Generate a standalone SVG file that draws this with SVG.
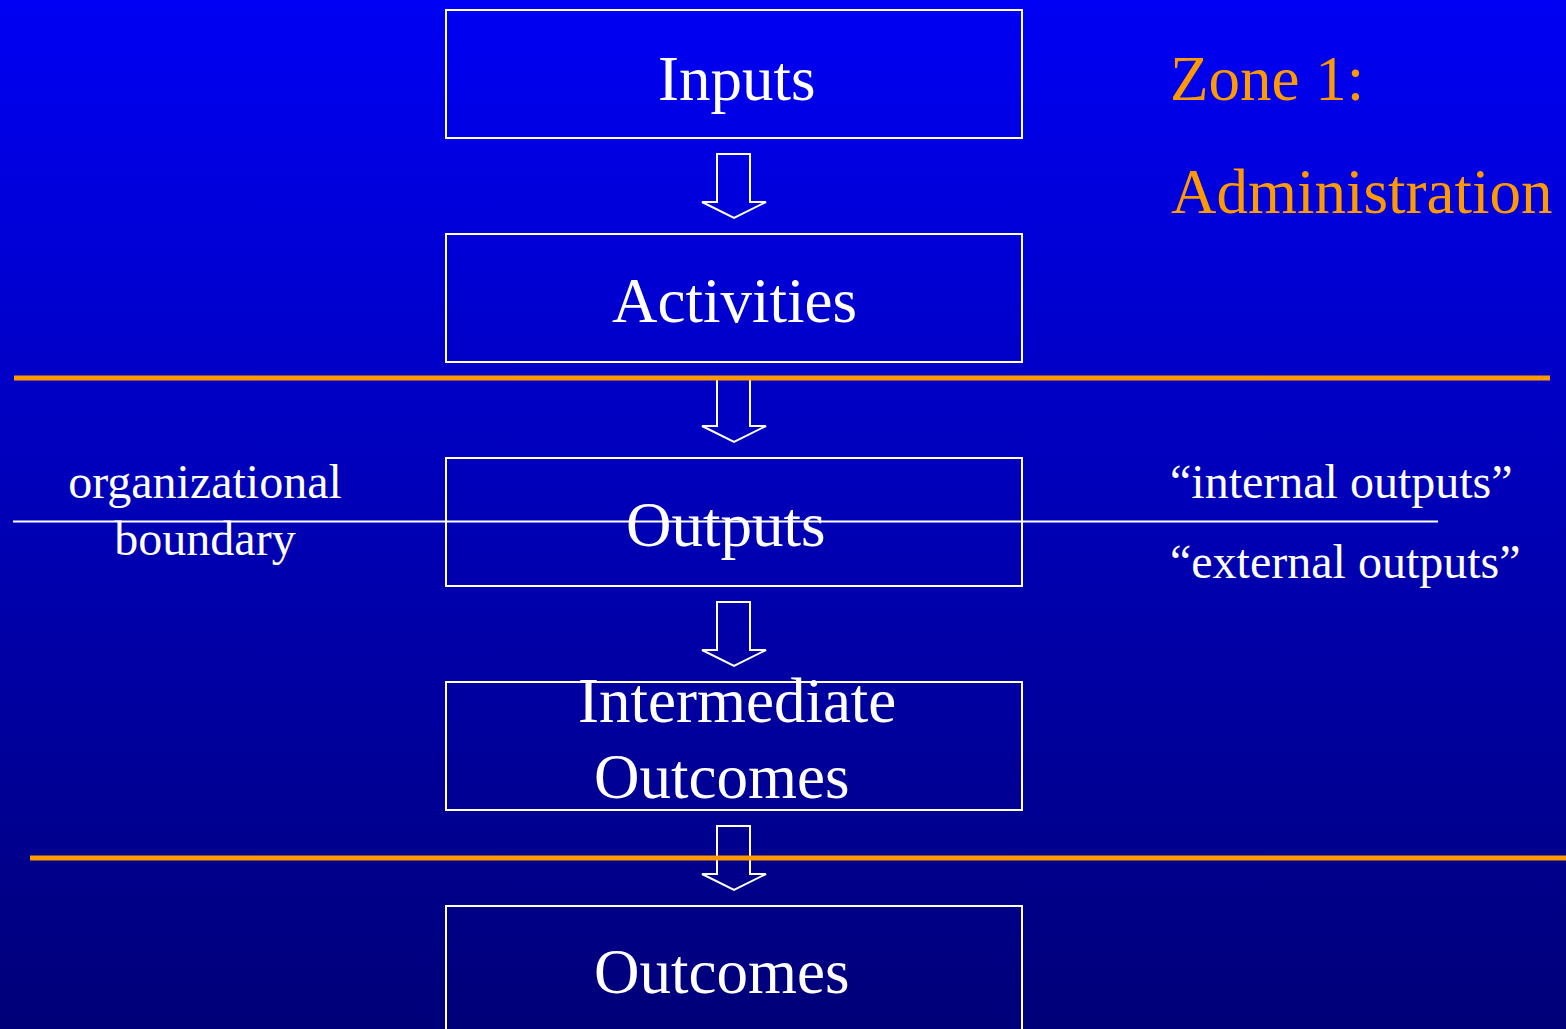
<svg xmlns="http://www.w3.org/2000/svg" width="1566" height="1029" viewBox="0 0 1566 1029">
<defs>
<linearGradient id="bg" x1="0" y1="0" x2="0" y2="1">
<stop offset="0" stop-color="#0000F4"/>
<stop offset="1" stop-color="#000078"/>
</linearGradient>
<style>
.box{fill:none;stroke:#FFFFFF;stroke-width:2}
.arrow{fill:none;stroke:#FFFFFF;stroke-width:2;stroke-linejoin:miter}
.t{font-family:"Liberation Serif","Times New Roman",serif;fill:#FFFFFF;font-size:63px}
.s{font-family:"Liberation Serif","Times New Roman",serif;fill:#FFFFFF;font-size:48px}
.o{font-family:"Liberation Serif","Times New Roman",serif;fill:#FF9900;font-size:63px}
.orange{stroke:#FF9900;stroke-width:5}
</style>
</defs>
<rect width="1566" height="1029" fill="url(#bg)"/>
<g id="connectors">
<path class="arrow" d="M717,154 H750 V202 H766 L734,218 L702,202 H717 Z"/>
<path class="arrow" d="M717,378 H750 V426 H766 L734,442 L702,426 H717 Z"/>
<path class="arrow" d="M717,602 H750 V650 H766 L734,666 L702,650 H717 Z"/>
<path class="arrow" d="M717,826 H750 V874 H766 L734,890 L702,874 H717 Z"/>
</g>
<g id="node-inputs"><rect class="box" x="446" y="10" width="576" height="128"/><text class="t" x="658" y="100">Inputs</text></g>
<g id="node-activities"><rect class="box" x="446" y="234" width="576" height="128"/><text class="t" x="612" y="322">Activities</text></g>
<g id="node-outputs"><rect class="box" x="446" y="458" width="576" height="128"/><text class="t" x="626" y="546">Outputs</text></g>
<g id="node-intermediate"><rect class="box" x="446" y="682" width="576" height="128"/><text class="t" x="578" y="722">Intermediate</text><text class="t" x="594" y="798">Outcomes</text></g>
<g id="node-outcomes"><rect class="box" x="446" y="906" width="576" height="140"/><text class="t" x="594" y="993">Outcomes</text></g>
<g id="zones">
<line class="orange" x1="14" y1="378" x2="1550" y2="378"/>
<line class="orange" x1="30" y1="858" x2="1566" y2="858"/>
<line x1="13" y1="521.5" x2="1438" y2="521.5" stroke="#FFFFFF" stroke-width="2"/>
<text class="o" x="1170" y="100">Zone 1:</text>
<text class="o" x="1171" y="213">Administration</text>
<text class="s" x="205" y="498" text-anchor="middle">organizational</text>
<text class="s" x="205" y="555" text-anchor="middle">boundary</text>
<text class="s" x="1170" y="498">“internal outputs”</text>
<text class="s" x="1170" y="578">“external outputs”</text>
</g>
</svg>
